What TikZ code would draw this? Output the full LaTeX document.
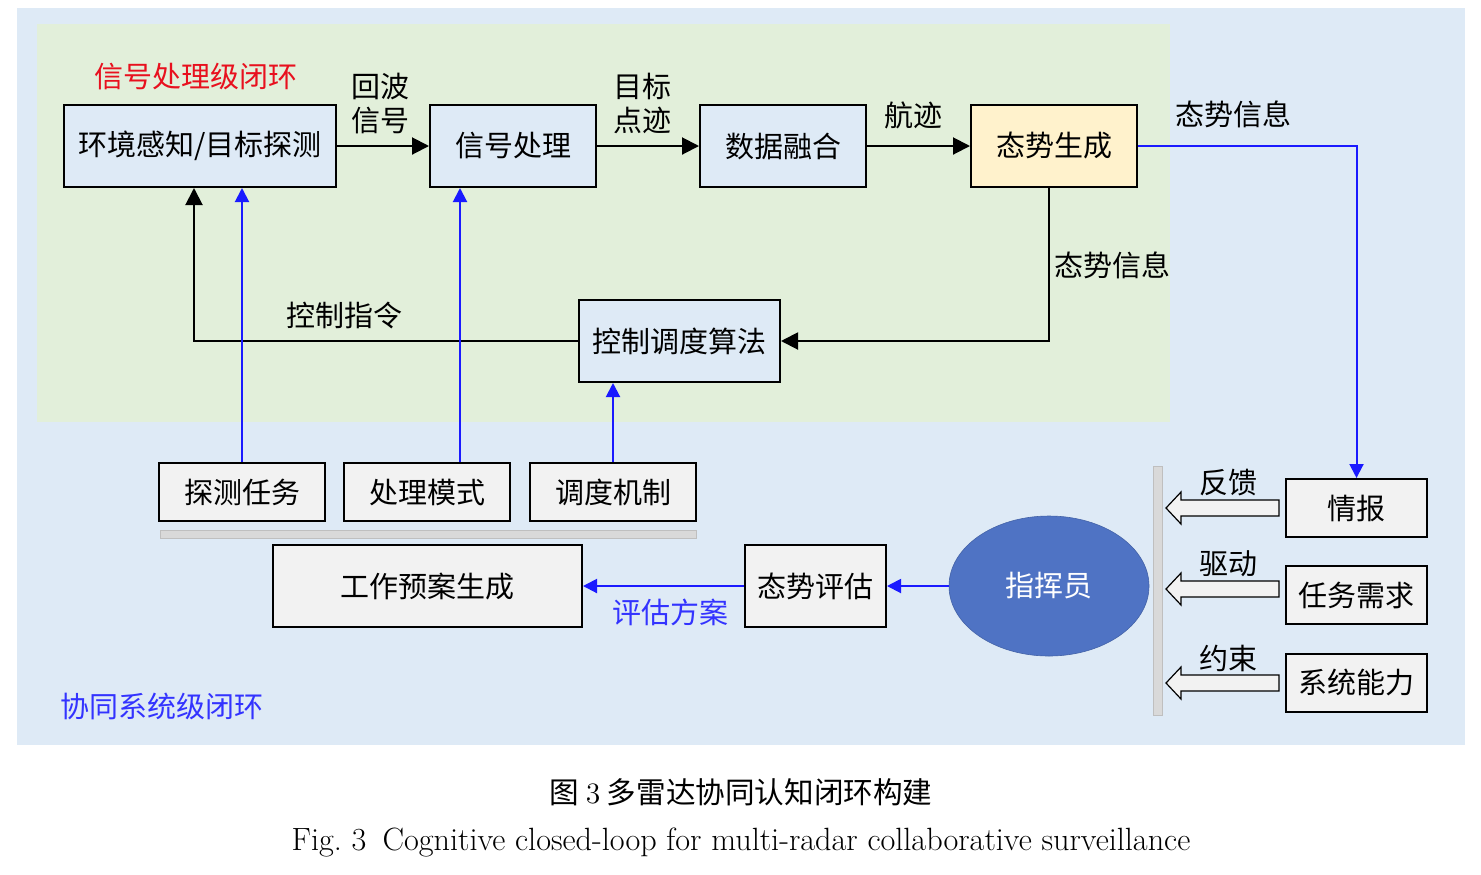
\documentclass[tikz,border=0pt]{standalone}
\usepackage{fontspec}
\newfontfamily\cjk{Noto Sans CJK SC}
\usetikzlibrary{arrows.meta,shapes.geometric}
\definecolor{bgblue}{HTML}{DEEAF6}
\definecolor{bggreen}{HTML}{E2EFDA}
\definecolor{boxblue}{HTML}{DEEAF6}
\definecolor{boxyellow}{HTML}{FFF2CC}
\definecolor{boxgray}{HTML}{F2F2F2}
\definecolor{barfill}{HTML}{D9D9D9}
\definecolor{barline}{HTML}{BFBFBF}
\definecolor{cmdblue}{HTML}{4F73C4}
\definecolor{lineblue}{HTML}{1A1AFF}
\definecolor{txtred}{HTML}{E8101E}
\definecolor{txtblue}{HTML}{3333FF}
\begin{document}
\begin{tikzpicture}[x=0.5pt,y=-0.5pt,
  font=\fontsize{14.5}{17}\selectfont\cjk,
  box/.style={draw=black,line width=1pt,inner sep=0pt,align=center},
  bigbox/.style={box,minimum height=41pt},
  smallbox/.style={box,minimum height=29pt},
  blk/.style={draw=black,line width=1pt,-{Triangle[length=8.5pt,width=8.5pt]}},
  blu/.style={draw=lineblue,line width=1pt,-{Triangle[length=7pt,width=7pt]}},
  lbl/.style={inner sep=0pt,align=center},
  blockarrow/.style={draw=black,line width=0.6pt,fill=boxgray},
  bar/.style={draw=barline,line width=0.5pt,fill=barfill}
]
\useasboundingbox (0,0) rectangle (1481,874);
% backgrounds
\fill[bgblue] (17,8) rectangle (1465,745);
\fill[bggreen] (37,24) rectangle (1170,422);
% top row
\node[bigbox,fill=boxblue,minimum width=136pt] (env) at (200,146) {环境感知/目标探测};
\node[bigbox,fill=boxblue,minimum width=83pt] (sig) at (513,146) {信号处理};
\node[bigbox,fill=boxblue,minimum width=83pt] (fus) at (783,146) {数据融合};
\node[bigbox,fill=boxyellow,minimum width=83pt] (gen) at (1054,146) {态势生成};
\node[bigbox,fill=boxblue,minimum width=100.5pt] (ctl) at (679.5,341) {控制调度算法};
% task boxes
\node[smallbox,fill=boxgray,minimum width=83pt] (t1) at (242,492) {探测任务};
\node[smallbox,fill=boxgray,minimum width=83pt] (t2) at (427,492) {处理模式};
\node[smallbox,fill=boxgray,minimum width=83pt] (t3) at (613,492) {调度机制};
\fill[bar] (160,530) rectangle (696,538);
\node[bigbox,fill=boxgray,minimum width=154.5pt] (plan) at (427.5,586) {工作预案生成};
\node[bigbox,fill=boxgray,minimum width=70.5pt] (eva) at (815.5,586) {态势评估};
\node[ellipse,fill=cmdblue,draw=cmdblue!85!black,line width=0.3pt,minimum width=100pt,minimum height=70pt,inner sep=0pt,text=white] (cmd) at (1049,586) {指挥员};
% right side
\fill[bar] (1153,466) rectangle (1162,715);
\node[smallbox,fill=boxgray,minimum width=70.5pt] (info) at (1356.5,508) {情报};
\node[smallbox,fill=boxgray,minimum width=70.5pt] (req) at (1356.5,595) {任务需求};
\node[smallbox,fill=boxgray,minimum width=70.5pt] (cap) at (1356.5,682.5) {系统能力};
% block arrows
\foreach \yy in {508,589,683}{
  \draw[blockarrow] (1166,\yy) -- (1181,\yy-16) -- (1181,\yy-8) -- (1279,\yy-8) -- (1279,\yy+8) -- (1181,\yy+8) -- (1181,\yy+16) -- cycle;
}
\node[lbl] (lfb) at (1228,483) {反馈};
\node[lbl] (ldr) at (1228,564) {驱动};
\node[lbl] (lcs) at (1228,658) {约束};
% connectors
\draw[blk] (env.east) -- (sig.west);
\draw[blk] (sig.east) -- (fus.west);
\draw[blk] (fus.east) -- (gen.west);
\draw[blk] ([xshift=-2.5pt]gen.south) |- (ctl.east);
\draw[blk] (ctl.west) -| ([xshift=-3pt]env.south);
\draw[blu] (gen.east) -| (info.north);
\draw[blu] (t1.north) -- (t1.north |- env.south);
\draw[blu] ([xshift=16.5pt]t2.north) -- ([xshift=16.5pt]t2.north |- sig.south);
\draw[blu] (t3.north) -- (t3.north |- ctl.south);
\draw[blu] (cmd.west) -- (eva.east);
\draw[blu] (eva.west) -- (plan.east);
% labels
\node[lbl,text=txtred] (lsp) at (196,77) {信号处理级闭环};
\node[lbl] (lecho) at (380,103) {回波\\信号};
\node[lbl] (ltgt) at (642,103) {目标\\点迹};
\node[lbl] (ltrk) at (913,115) {航迹};
\node[lbl] (lsi1) at (1233,114) {态势信息};
\node[lbl] (lsi2) at (1112,265) {态势信息};
\node[lbl] (lcc) at (344,315) {控制指令};
\node[lbl,text=txtblue] (lev) at (670,612) {评估方案};
\node[lbl,text=txtblue] (lsys) at (162,706) {协同系统级闭环};
% caption
\node[lbl,font=\fontsize{14.8}{17}\selectfont\cjk] (cap1) at (741,792) {图 {\rmfamily 3} 多雷达协同认知闭环构建};
\node[lbl,font=\fontsize{16.1}{19}\selectfont\rmfamily] (cap2) at (741,842) {Fig.~3\enspace Cognitive closed-loop for multi-radar collaborative surveillance};
\end{tikzpicture}
\end{document}
